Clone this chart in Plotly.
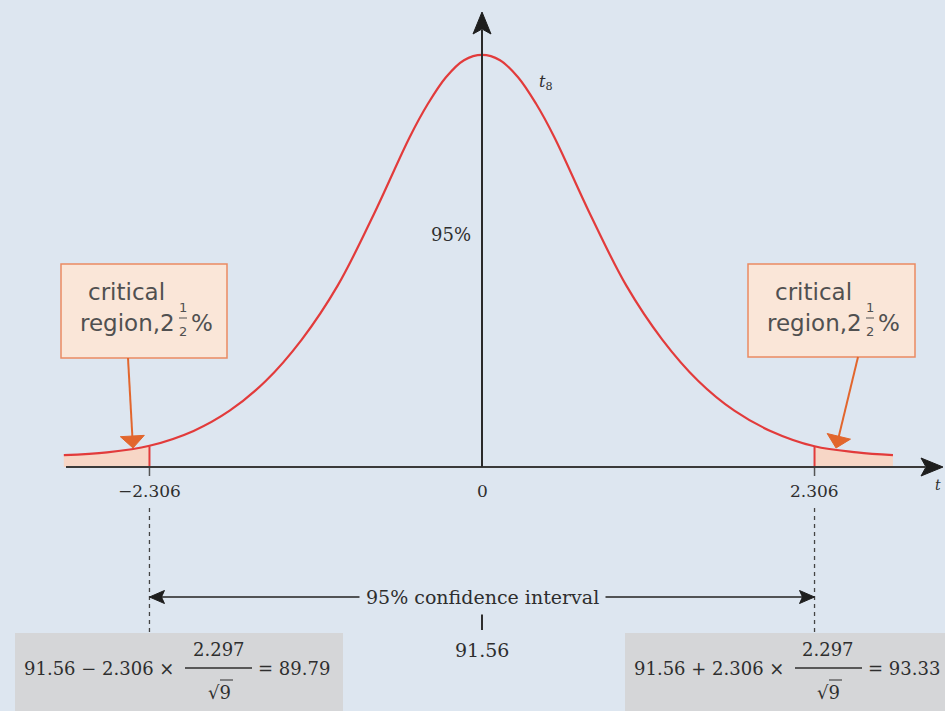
import math
import plotly.graph_objects as go

# ---- data -------------------------------------------------------------
# t-distribution with 8 degrees of freedom, sampled density values
t_points = [-2.9, -2.6, -2.306, -2.0, -1.75, -1.5, -1.25, -1.0, -0.75, -0.5, -0.375, -0.25, -0.125,
            0.0, 0.125, 0.25, 0.375, 0.5, 0.75, 1.0, 1.25, 1.5, 1.75, 2.0, 2.306, 2.6, 2.85]
density = [0.0112, 0.0138, 0.0200, 0.034, 0.053, 0.081, 0.120, 0.171, 0.238, 0.311, 0.342, 0.367, 0.383,
           0.388, 0.383, 0.367, 0.342, 0.311, 0.238, 0.171, 0.120, 0.081, 0.053, 0.034, 0.0195, 0.0138, 0.0112]

t_crit = 2.306
tick_positions = [-t_crit, 0.0, t_crit]
tick_labels = ["\u22122.306", "0", "2.306"]

sample_mean = "91.56"
sample_sd = "2.297"
sample_n = "9"
ci_lower = "89.79"
ci_upper = "93.33"

# ---- canvas mapping (figure pixels -> data units) ---------------------
W, H = 945, 711
X0, SX = 482.0, 144.2      # pixel of t = 0, pixels per unit t
Y0, SY = 467.0, 1062.0     # pixel of density = 0, pixels per unit density


def tx(px):
    return (px - X0) / SX


def fy(py):
    return (Y0 - py) / SY


BG = "#dde6f0"
RED = "#e23b3b"
TAIL_FILL = "#f7d6c6"
ORANGE = "#e2662d"
BOX_FILL = "#fae6d8"
BOX_LINE = "#ea8a62"
GREY_BOX = "#d5d6d8"
INK = "#2e2e2e"
BOX_INK = "#505050"
SERIF = "DejaVu Serif"
SANS = "DejaVu Sans"

fig = go.Figure()

# shaded critical regions (tails beyond +/- t_crit)
left_idx = [i for i, t in enumerate(t_points) if t <= -t_crit]
right_idx = [i for i, t in enumerate(t_points) if t >= t_crit]
for idx in (left_idx, right_idx):
    fig.add_trace(go.Scatter(
        x=[t_points[i] for i in idx], y=[density[i] for i in idx],
        mode="lines", line=dict(width=0, shape="spline"),
        fill="tozeroy", fillcolor=TAIL_FILL, hoverinfo="skip", showlegend=False))

# density curve
fig.add_trace(go.Scatter(
    x=t_points, y=density, mode="lines",
    line=dict(color=RED, width=2.2, shape="spline", smoothing=1.0),
    hoverinfo="skip", showlegend=False))

f_crit = density[t_points.index(t_crit)]

shapes = []
annotations = []


def line_px(x0, y0, x1, y1, color, width, dash=None):
    ln = dict(color=color, width=width)
    if dash:
        ln["dash"] = dash
    shapes.append(dict(type="line", x0=tx(x0), y0=fy(y0), x1=tx(x1), y1=fy(y1), line=ln))


def head_px(tipx, tipy, fromx, fromy, length, half, notch, color):
    """Filled arrowhead whose tip is at (tipx, tipy), pointing away from (fromx, fromy)."""
    dx, dy = tipx - fromx, tipy - fromy
    d = math.hypot(dx, dy)
    ux, uy = dx / d, dy / d
    px_, py_ = -uy, ux
    bx, by = tipx - ux * length, tipy - uy * length
    nx, ny = tipx - ux * (length - notch), tipy - uy * (length - notch)
    pts = [(tipx, tipy), (bx + px_ * half, by + py_ * half), (nx, ny),
           (bx - px_ * half, by - py_ * half)]
    path = "M " + " L ".join(f"{tx(a):.5f},{fy(b):.5f}" for a, b in pts) + " Z"
    shapes.append(dict(type="path", path=path, fillcolor=color, line=dict(color=color, width=1)))


def label(x, y, text, size, family=SERIF, color=INK, xanchor="center", **kw):
    annotations.append(dict(x=x, y=y, xref="x", yref="y", text=text, showarrow=False,
                            font=dict(family=family, size=size, color=color),
                            xanchor=xanchor, yanchor="middle", **kw))


# red boundary lines of the critical regions
for t in (-t_crit, t_crit):
    shapes.append(dict(type="line", x0=t, x1=t, y0=0, y1=f_crit,
                       line=dict(color=RED, width=2)))

# tick marks below the axis
for t in (-t_crit, t_crit):
    shapes.append(dict(type="line", x0=t, x1=t, y0=0, y1=fy(476),
                       line=dict(color="#555555", width=1.5)))

# dashed drop lines to the interval
for t in (-t_crit, t_crit):
    shapes.append(dict(type="line", x0=t, x1=t, y0=fy(508), y1=fy(633),
                       line=dict(color="#444444", width=1.3, dash="4px,4px")))

# short mark under the interval label
line_px(X0, 610, X0, 630, INK, 2)

# grey formula boxes
shapes.append(dict(type="rect", x0=tx(15), x1=tx(343), y0=fy(633), y1=fy(712),
                   fillcolor=GREY_BOX, line=dict(width=0), layer="below"))
shapes.append(dict(type="rect", x0=tx(625), x1=tx(946), y0=fy(633), y1=fy(712),
                   fillcolor=GREY_BOX, line=dict(width=0), layer="below"))

# critical-region label boxes
shapes.append(dict(type="rect", x0=tx(61), x1=tx(227), y0=fy(264), y1=fy(358),
                   fillcolor=BOX_FILL, line=dict(color=BOX_LINE, width=1.5)))
shapes.append(dict(type="rect", x0=tx(748), x1=tx(915), y0=fy(264), y1=fy(357),
                   fillcolor=BOX_FILL, line=dict(color=BOX_LINE, width=1.5)))

# axes with arrowheads
line_px(66, Y0, 925, Y0, "#3a3a3a", 2)
head_px(943, Y0, 66, Y0, 22, 9, 5, "#1e1e1e")
line_px(X0, Y0, X0, 30, "#2a2a2a", 2)
head_px(X0, 12, X0, Y0, 22, 9, 5, "#1e1e1e")

# axis labels
label(tx(938), fy(485), "<i>t</i>", 14)
label(tx(546), fy(82), "<i>t</i><sub>8</sub>", 16)
label(tx(451), fy(234), "95%", 18)
for t, txt in zip(tick_positions, tick_labels):
    label(t, fy(491), txt, 17)

# critical-region texts and pointers
for off, (tailx, taily, tipx) in ((0, (128, 358, 133)), (687, (858, 357, 836))):
    label(tx(86 + off), fy(292), "critical", 23, family=SANS, color=BOX_INK, xanchor="left")
    label(tx(177 + off), fy(323), "region,2", 23, family=SANS, color=BOX_INK, xanchor="right")
    label(tx(183 + off), fy(307), "1", 13, family=SANS, color=BOX_INK)
    label(tx(183 + off), fy(331), "2", 13, family=SANS, color=BOX_INK)
    line_px(179 + off, 318, 187 + off, 318, BOX_INK, 1)
    label(tx(189 + off), fy(323), "%", 23, family=SANS, color=BOX_INK, xanchor="left")
    # pointer shaft ends at the base of its head
    dx, dy = tipx - tailx, 448 - taily
    d = math.hypot(dx, dy)
    line_px(tailx, taily, tipx - dx / d * 9, 448 - dy / d * 9, ORANGE, 2)
    head_px(tipx, 448, tailx, taily, 12, 12, 0.01, ORANGE)

# confidence interval double arrow
x_lo, x_hi = X0 + SX * (-t_crit), X0 + SX * t_crit
line_px(x_lo + 10, 597, x_hi - 10, 597, "#222222", 1.6)
head_px(x_lo, 597, X0, 597, 15, 6.5, 3, "#1e1e1e")
head_px(x_hi, 597, X0, 597, 15, 6.5, 3, "#1e1e1e")
label(0, fy(597), "95% confidence interval", 19, bgcolor=BG, borderpad=6)
label(0, fy(650), sample_mean, 19)

# interval end-point formulas
for (x_left, sign, x_frac, bar0, bar1, x_res, result) in (
        (22, "\u2212", 219, 185, 252, 256, ci_lower),
        (632, "+", 828, 795, 862, 866, ci_upper)):
    label(tx(x_left), fy(668),
          f"{sample_mean} {sign} {t_crit} \u00d7", 18, xanchor="left")
    label(tx(x_frac), fy(649), sample_sd, 18)
    line_px(bar0, 668, bar1, 668, INK, 1.5)
    label(tx(x_frac), fy(692), f"\u221a{sample_n}", 18)
    line_px(x_frac + 1, 680, x_frac + 14, 680, INK, 1)
    label(tx(x_res), fy(668), f"= {result}", 18, xanchor="left")

fig.update_layout(
    width=W, height=H,
    margin=dict(l=0, r=0, t=0, b=0),
    paper_bgcolor=BG, plot_bgcolor=BG,
    xaxis=dict(range=[tx(0), tx(W)], visible=False, fixedrange=True),
    yaxis=dict(range=[fy(H), fy(0)], visible=False, fixedrange=True),
    shapes=shapes, annotations=annotations, showlegend=False,
)

fig.write_html("out.html", config={"displayModeBar": False})
